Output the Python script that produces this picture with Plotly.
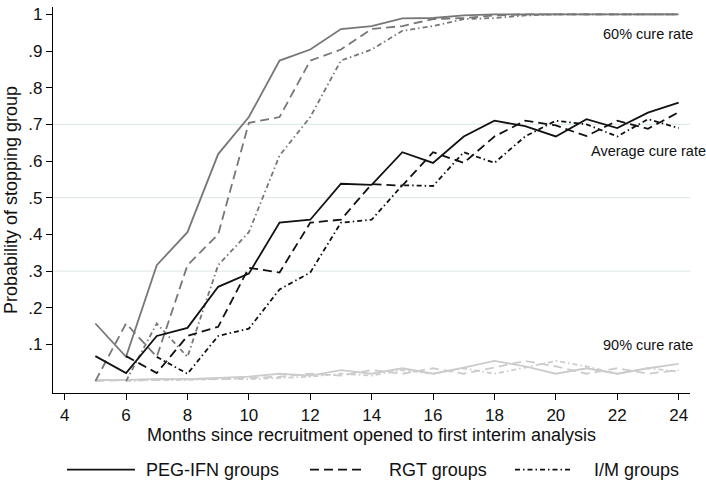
import plotly.graph_objects as go

# ---- data ----
MONTHS = list(range(5, 25))

# Average cure rate (black)
PEG_AVG = [0.068, 0.022, 0.123, 0.145, 0.257, 0.293, 0.432, 0.440, 0.538, 0.535,
           0.624, 0.595, 0.667, 0.710, 0.695, 0.667, 0.714, 0.690, 0.732, 0.759]
RGT_AVG = [None, 0.068, 0.022, 0.123, 0.148, 0.309, 0.296, 0.432, 0.440, 0.537,
           0.533, 0.624, 0.595, 0.667, 0.710, 0.697, 0.668, 0.710, 0.688, 0.733]
IM_AVG = [None, None, 0.066, 0.020, 0.123, 0.143, 0.250, 0.296, 0.432, 0.440,
          0.534, 0.532, 0.624, 0.595, 0.667, 0.710, 0.700, 0.667, 0.714, 0.690]

# 60% cure rate (mid grey)
PEG_60 = [0.157, 0.066, 0.316, 0.406, 0.619, 0.720, 0.874, 0.904, 0.960, 0.968,
          0.989, 0.990, 0.997, 1.000, 1.000, 1.000, 1.000, 1.000, 1.000, 1.000]
RGT_60 = [0.000, 0.157, 0.066, 0.316, 0.400, 0.704, 0.720, 0.874, 0.904, 0.960,
          0.968, 0.987, 0.990, 0.997, 1.000, 1.000, 1.000, 1.000, 1.000, 1.000]
IM_60 = [None, 0.000, 0.157, 0.066, 0.316, 0.406, 0.615, 0.720, 0.874, 0.904,
         0.955, 0.968, 0.987, 0.990, 0.997, 1.000, 1.000, 1.000, 1.000, 1.000]

# 90% cure rate (light grey)
PEG_90 = [0.003, 0.003, 0.006, 0.005, 0.009, 0.012, 0.020, 0.015, 0.030, 0.020,
          0.035, 0.020, 0.037, 0.055, 0.040, 0.020, 0.035, 0.020, 0.035, 0.047]
RGT_90 = [0.000, 0.003, 0.003, 0.006, 0.005, 0.009, 0.012, 0.020, 0.015, 0.030,
          0.020, 0.035, 0.020, 0.037, 0.055, 0.040, 0.020, 0.035, 0.020, 0.030]
IM_90 = [None, 0.000, 0.003, 0.003, 0.006, 0.005, 0.009, 0.012, 0.020, 0.015,
         0.030, 0.020, 0.035, 0.020, 0.037, 0.055, 0.040, 0.020, 0.035, 0.026]

GROUP_NAMES = ["PEG-IFN groups", "RGT groups", "I/M groups"]
X_TICKS = list(range(4, 25, 2))
Y_TICKS = [0.1, 0.2, 0.3, 0.4, 0.5, 0.6, 0.7, 0.8, 0.9, 1.0]
Y_TICK_TEXT = [".1", ".2", ".3", ".4", ".5", ".6", ".7", ".8", ".9", "1"]
GRID_VALUES = [0.3, 0.5, 0.7]
LABELS = ["60% cure rate", "Average cure rate", "90% cure rate"]
LABEL_Y = [0.946, 0.627, 0.098]

# ---- styles / layout ----
W, H = 706, 481
ML, MR, MT, MB = 53, 16, 5, 88
PW, PH = W - ML - MR, H - MT - MB
FONT = "Liberation Sans, Arial, Helvetica, sans-serif"
DASHES = ["solid", "9px,5px", "5px,3px,1.5px,3px"]
C_AVG, C_60, C_90 = "#111111", "#777777", "#cccccc"
LW = 1.8


def px_to_paper_x(px):
    return (px - ML) / PW


def px_to_paper_y(py):
    return (H - MB - py) / PH


fig = go.Figure()

series = [
    (C_90, [PEG_90, RGT_90, IM_90]),
    (C_60, [PEG_60, RGT_60, IM_60]),
    (C_AVG, [PEG_AVG, RGT_AVG, IM_AVG]),
]
for color, ys in series:
    for i, y in enumerate(ys):
        fig.add_trace(go.Scatter(
            x=MONTHS, y=y, mode="lines", name=GROUP_NAMES[i],
            line=dict(color=color, width=LW, dash=DASHES[i]),
            showlegend=False, connectgaps=False, hoverinfo="skip",
        ))

for g in GRID_VALUES:
    fig.add_shape(type="line", xref="paper", x0=0, x1=1, yref="y", y0=g, y1=g,
                  line=dict(color="#e3eaec", width=1.2), layer="below")

for text, yv in zip(LABELS, LABEL_Y):
    fig.add_annotation(text=text, xref="paper", x=px_to_paper_x(648), xanchor="center",
                       yref="y", y=yv, yanchor="middle", showarrow=False,
                       font=dict(size=14.5, color="#111111", family=FONT))

# custom legend (long line keys like the reference)
LEG_Y = px_to_paper_y(470)
LEG_KEYS = [(67, 135, 144), (310, 365, 387), (515, 573, 592)]
for (x0, x1, xt), name, dash in zip(LEG_KEYS, GROUP_NAMES, DASHES):
    fig.add_shape(type="line", xref="paper", yref="paper",
                  x0=px_to_paper_x(x0), x1=px_to_paper_x(x1), y0=LEG_Y, y1=LEG_Y,
                  line=dict(color=C_AVG, width=LW, dash=dash))
    fig.add_annotation(text=name, xref="paper", yref="paper",
                       x=px_to_paper_x(xt), xanchor="left", y=LEG_Y, yanchor="middle",
                       showarrow=False, font=dict(size=18, color="#111111", family=FONT))

fig.update_layout(
    width=W, height=H,
    margin=dict(l=ML, r=MR, t=MT, b=MB),
    paper_bgcolor="white", plot_bgcolor="white",
    font=dict(family=FONT, color="#111111", size=17),
    showlegend=False,
    xaxis=dict(
        range=[3.62, 24.37], tickvals=X_TICKS, ticks="outside", ticklen=6,
        tickwidth=1, tickcolor="black", showline=True, linecolor="black",
        linewidth=1.2, showgrid=False, zeroline=False,
        tickfont=dict(size=17),
        title=dict(text="Months since recruitment opened to first interim analysis",
                   font=dict(size=18), standoff=3),
    ),
    yaxis=dict(
        range=[-0.0325, 1.02], tickvals=Y_TICKS, ticktext=Y_TICK_TEXT,
        ticks="outside", ticklen=6, tickwidth=1, tickcolor="black",
        showline=True, linecolor="black", linewidth=1.2, showgrid=False,
        zeroline=False, tickfont=dict(size=17),
        title=dict(text="Probability of stopping group", font=dict(size=18), standoff=6),
    ),
)

# remove the default 8px page margin so the figure sits at the window origin
fig.write_html("out.html",
               config={"displayModeBar": False, "staticPlot": True},
               post_script="document.body.style.margin='0px';document.body.style.padding='0px';")
